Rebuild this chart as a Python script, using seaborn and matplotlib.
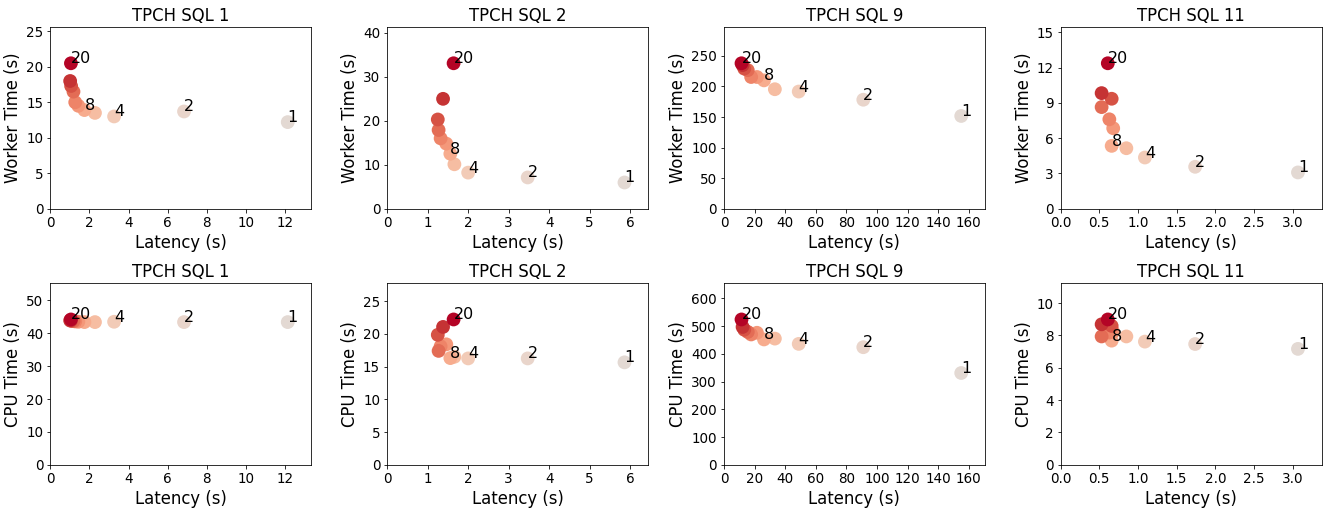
import numpy as np
import pandas as pd
import seaborn as sns
import matplotlib.pyplot as plt
from matplotlib.ticker import MultipleLocator

# degree of parallelism for each run
dop = [1, 2, 4, 6, 8, 10, 12, 14, 16, 18, 20]
labeled = [1, 2, 4, 8, 20]

queries = ["TPCH SQL 1", "TPCH SQL 2", "TPCH SQL 9", "TPCH SQL 11"]

q1_latency = [12.15, 6.84, 3.26, 2.28, 1.74, 1.43, 1.27, 1.18, 1.06, 1.01, 1.05]
q1_worker = [12.2, 13.7, 13.0, 13.5, 13.9, 14.5, 15.0, 16.5, 17.3, 18.0, 20.5]
q1_cpu = [43.4, 43.4, 43.5, 43.4, 43.4, 43.5, 43.6, 43.7, 43.8, 43.9, 44.2]

q2_latency = [5.86, 3.47, 2.0, 1.66, 1.56, 1.46, 1.32, 1.27, 1.25, 1.38, 1.64]
q2_worker = [5.95, 7.1, 8.2, 10.1, 12.5, 14.8, 16.0, 17.9, 20.3, 25.0, 33.1]
q2_cpu = [15.65, 16.25, 16.25, 16.5, 16.3, 18.4, 18.1, 17.4, 19.85, 21.06, 22.2]

q9_latency = [155.1, 91.1, 48.9, 33.3, 26.2, 21.6, 17.8, 15.6, 13.3, 12.2, 11.5]
q9_worker = [151.7, 178.3, 191.7, 195.5, 210, 215.5, 215.5, 226.7, 229.3, 235, 238]
q9_cpu = [331, 424, 436, 455, 452, 476, 470, 479, 487, 497, 524]

q11_latency = [3.07, 1.74, 1.09, 0.85, 0.66, 0.68, 0.63, 0.53, 0.66, 0.53, 0.61]
q11_worker = [3.08, 3.56, 4.35, 5.14, 5.34, 6.84, 7.6, 8.64, 9.35, 9.83, 12.37]
q11_cpu = [7.17, 7.47, 7.62, 7.94, 7.68, 8.22, 8.18, 7.94, 8.59, 8.69, 8.99]

latency = [q1_latency, q2_latency, q9_latency, q11_latency]
worker = [q1_worker, q2_worker, q9_worker, q11_worker]
cpu = [q1_cpu, q2_cpu, q9_cpu, q11_cpu]

x_step = [2, 1, 20, 0.5]
worker_step = [5, 10, 50, 3]
cpu_step = [10, 5, 100, 2]


def draw(ax, lat, val, title, ylabel, xs, ys, skip=()):
    df = pd.DataFrame({"lat": lat, "val": val, "dop": dop})
    sns.scatterplot(data=df, x="lat", y="val", hue="dop", palette="coolwarm",
                    hue_norm=(-20, 20), s=190, linewidth=0, legend=False, ax=ax)
    for _, row in df.iterrows():
        if row["dop"] in labeled and row["dop"] not in skip:
            ax.text(row["lat"], row["val"], str(int(row["dop"])), fontsize=16)
    ax.set_xlim(0, max(lat) * 1.1)
    ax.set_ylim(0, max(val) * 1.25)
    ax.xaxis.set_major_locator(MultipleLocator(xs))
    ax.yaxis.set_major_locator(MultipleLocator(ys))
    ax.set_title(title, fontsize=16.5)
    ax.set_xlabel("Latency (s)", fontsize=16.5)
    ax.set_ylabel(ylabel, fontsize=16.5)
    ax.tick_params(labelsize=13.5)


fig, axes = plt.subplots(2, 4, figsize=(1327 / 72, 508 / 72), dpi=72)
for i in range(4):
    draw(axes[0, i], latency[i], worker[i], queries[i], "Worker Time (s)", x_step[i], worker_step[i])
    # label 8 hides under the 20 label in the first cpu panel
    draw(axes[1, i], latency[i], cpu[i], queries[i], "CPU Time (s)", x_step[i], cpu_step[i],
         skip=(8,) if i == 0 else ())

plt.subplots_adjust(left=0.038, right=0.996, top=0.947, bottom=0.085,
                    wspace=0.29, hspace=0.41)
plt.savefig("out.png", dpi=72)
